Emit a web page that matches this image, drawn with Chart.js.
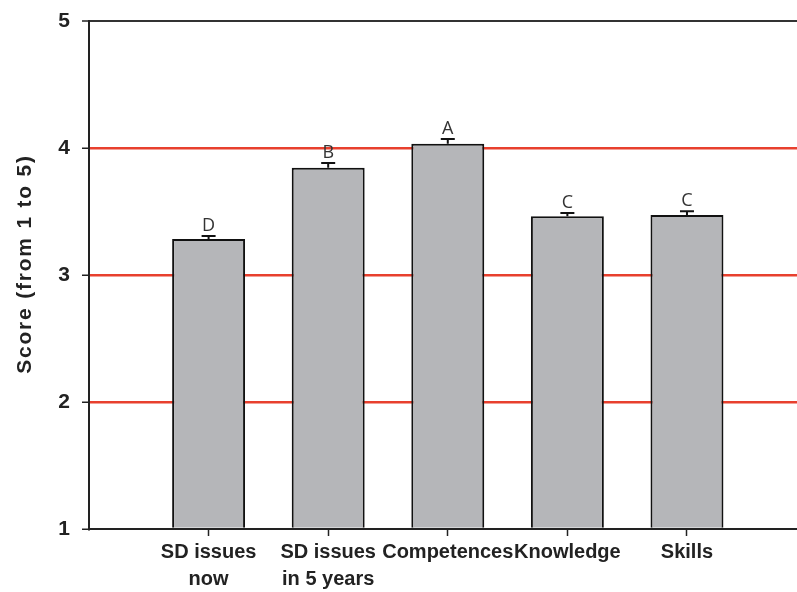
<!DOCTYPE html>
<html>
<head>
<meta charset="utf-8">
<script src="https://cdn.jsdelivr.net/npm/chart.js@4/dist/chart.umd.min.js"></script>
<style>
  html, body { margin: 0; padding: 0; background: #fff; }
  #c { display: block; }
</style>
</head>
<body>
<canvas id="c" width="797" height="592"></canvas>
<script>
// Mean scores per item (scale 1 to 5), standard errors and significance groups
const categories = [["SD issues", "now"], ["SD issues", "in 5 years"], "Competences", "Knowledge", "Skills"];
const scores = [3.283, 3.845, 4.034, 3.462, 3.472];
const stdErrors = [0.024, 0.037, 0.037, 0.026, 0.029];
const groups = ["D", "B", "A", "C", "C"];
const yTicks = [1, 2, 3, 4, 5];
const yTitle = "Score (from 1 to 5)";

const AXIS_FONT = "'Liberation Sans', Arial, sans-serif";

// Upper error whiskers and group letters above each bar
const errorBarPlugin = {
  id: 'errorBars',
  afterDatasetsDraw(chart) {
    const ctx = chart.ctx;
    const yScale = chart.scales.y;
    const meta = chart.getDatasetMeta(0);
    ctx.save();
    meta.data.forEach((bar, i) => {
      const top = yScale.getPixelForValue(scores[i] + stdErrors[i]);
      const x = bar.x;
      ctx.strokeStyle = '#111';
      ctx.lineWidth = 2;
      ctx.beginPath();
      ctx.moveTo(x, bar.y);
      ctx.lineTo(x, top);
      ctx.moveTo(x - 7, top);
      ctx.lineTo(x + 7, top);
      ctx.stroke();
      ctx.fillStyle = '#333';
      ctx.font = "18px 'Open Sans', sans-serif";
      ctx.textAlign = 'center';
      ctx.textBaseline = 'alphabetic';
      ctx.fillText(groups[i], x, top - 5);
    });
    ctx.restore();
  }
};

// Rotated y-axis title with slightly widened letter spacing
const yTitlePlugin = {
  id: 'yTitle',
  afterDraw(chart) {
    const ctx = chart.ctx;
    const area = chart.chartArea;
    ctx.save();
    ctx.translate(25, (area.top + area.bottom) / 2 - 11);
    ctx.rotate(-Math.PI / 2);
    ctx.font = "bold 21px " + AXIS_FONT;
    ctx.letterSpacing = '1.8px';
    ctx.fillStyle = '#222';
    ctx.textAlign = 'center';
    ctx.textBaseline = 'middle';
    ctx.fillText(yTitle, 0, 0);
    ctx.restore();
  }
};

new Chart(document.getElementById('c'), {
  type: 'bar',
  data: {
    datasets: [{
      data: scores.map((v, i) => ({ x: i + 1, y: v })),
      base: 1,
      backgroundColor: '#b5b6b9',
      borderColor: '#111',
      borderWidth: 2,
      borderSkipped: 'start',
      barPercentage: 0.61,
      categoryPercentage: 1
    }]
  },
  options: {
    responsive: false,
    devicePixelRatio: 1,
    animation: false,
    layout: { padding: { top: 21, right: 0, left: 0, bottom: 0 } },
    plugins: {
      legend: { display: false },
      tooltip: { enabled: false }
    },
    scales: {
      x: {
        type: 'linear',
        offset: false,
        min: 0,
        max: 5.92,
        afterBuildTicks(scale) {
          scale.ticks = categories.map((c, i) => ({ value: i + 1 }));
        },
        afterFit(scale) { scale.height = 63; },
        ticks: {
          autoSkip: false,
          maxRotation: 0,
          padding: 3,
          color: '#222',
          font: { family: AXIS_FONT, size: 20, weight: 'bold', lineHeight: 1.35 },
          callback: (value) => categories[value - 1]
        },
        grid: {
          offset: false,
          drawOnChartArea: false,
          drawTicks: true,
          tickLength: 7,
          tickColor: '#222',
          tickWidth: 1.5
        },
        border: { display: true, color: '#222', width: 2 }
      },
      y: {
        min: 1,
        max: 5,
        afterBuildTicks(scale) {
          scale.ticks = yTicks.map(v => ({ value: v }));
        },
        afterFit(scale) {
          scale.width = 89;
          scale.paddingTop = 10;
          scale.paddingBottom = 10;
        },
        ticks: {
          padding: 12,
          color: '#222',
          font: { family: AXIS_FONT, size: 21, weight: 'bold' }
        },
        grid: {
          drawOnChartArea: true,
          tickLength: 7,
          tickColor: '#222',
          tickWidth: 1.5,
          color: (ctx) => {
            const v = ctx.tick && ctx.tick.value;
            if (v === 5) return '#333';
            if (v === 1) return 'rgba(0,0,0,0)';
            return '#e8402e';
          },
          lineWidth: (ctx) => (ctx.tick && ctx.tick.value === 5) ? 2 : 2.5
        },
        border: { display: true, color: '#222', width: 2 }
      }
    }
  },
  plugins: [errorBarPlugin, yTitlePlugin]
});
</script>
</body>
</html>
